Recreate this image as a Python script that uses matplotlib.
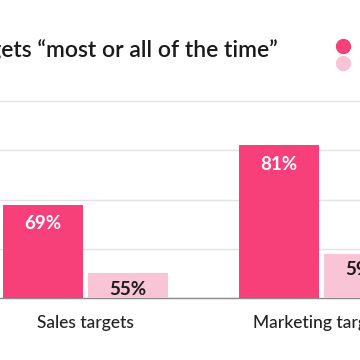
import numpy as np
import matplotlib.pyplot as plt
from matplotlib.lines import Line2D

plt.rcParams['font.family'] = ['Lato', 'DejaVu Sans']

# data
categories = ["Sales targets", "Marketing targets"]
series_a = [69, 81]
series_b = [55, 59]
dark_pink = "#F7407A"
light_pink = "#F9C4D5"

fig = plt.figure(figsize=(3.6, 3.6), dpi=100)
# axes placed so the chart appears cropped like the reference
ax = fig.add_axes([0, 62 / 360, 1, 210 / 360])

x = np.arange(len(categories))
w = 0.339
off = 0.18
bars_a = ax.bar(x - off, series_a, w, bottom=0, color=dark_pink, zorder=3)
bars_b = ax.bar(x + off, series_b, w, bottom=0, color=light_pink, zorder=3)

ax.set_xlim(-0.362, 1.163)
ax.set_ylim(50, 50 + 210 / 4.92)
ax.set_yticks([50, 60, 70, 80, 90])
ax.yaxis.grid(True, color="#e3e3e3", linewidth=1, zorder=0)
ax.tick_params(left=False, labelleft=False, bottom=False)
for s in ["top", "right", "left"]:
    ax.spines[s].set_visible(False)
ax.spines["bottom"].set_color("#8a8a8a")
ax.spines["bottom"].set_linewidth(1)
ax.set_xticks(x)
ax.set_xticklabels(categories, fontsize=12.5, color="#222222", fontweight="medium")
ax.tick_params(axis="x", pad=9)

for b, v in zip(bars_a, series_a):
    ax.annotate(f"{v}%", (b.get_x() + b.get_width() / 2, v), xytext=(0, -14),
                textcoords="offset points", ha="center", va="center",
                color="white", fontsize=13.5, fontweight="bold", zorder=5,
                annotation_clip=False)
for b, v in zip(bars_b, series_b):
    ax.annotate(f"{v}%", (b.get_x() + b.get_width() / 2, v), xytext=(0, -11.5),
                textcoords="offset points", ha="center", va="center",
                color="#1a1a1a", fontsize=13.5, fontweight="bold", zorder=5,
                annotation_clip=False)

# title (cropped on the left in the reference)
fig.text(278 / 360, 1 - 50 / 360, "Marketers who hit targets “most or all of the time”",
         ha="right", va="center", fontsize=16.5, color="#1a1a1a", fontweight="semibold")

# legend markers
handles = [Line2D([], [], marker="o", linestyle="", markersize=10, color=dark_pink),
           Line2D([], [], marker="o", linestyle="", markersize=10, color=light_pink)]
fig.legend(handles, ["", ""], loc="upper left", bbox_to_anchor=(322 / 360, 1 - 34 / 360),
           frameon=False, handletextpad=0.2, labelspacing=0.35, borderpad=0)

fig.savefig("out.png", dpi=100, facecolor="white")
